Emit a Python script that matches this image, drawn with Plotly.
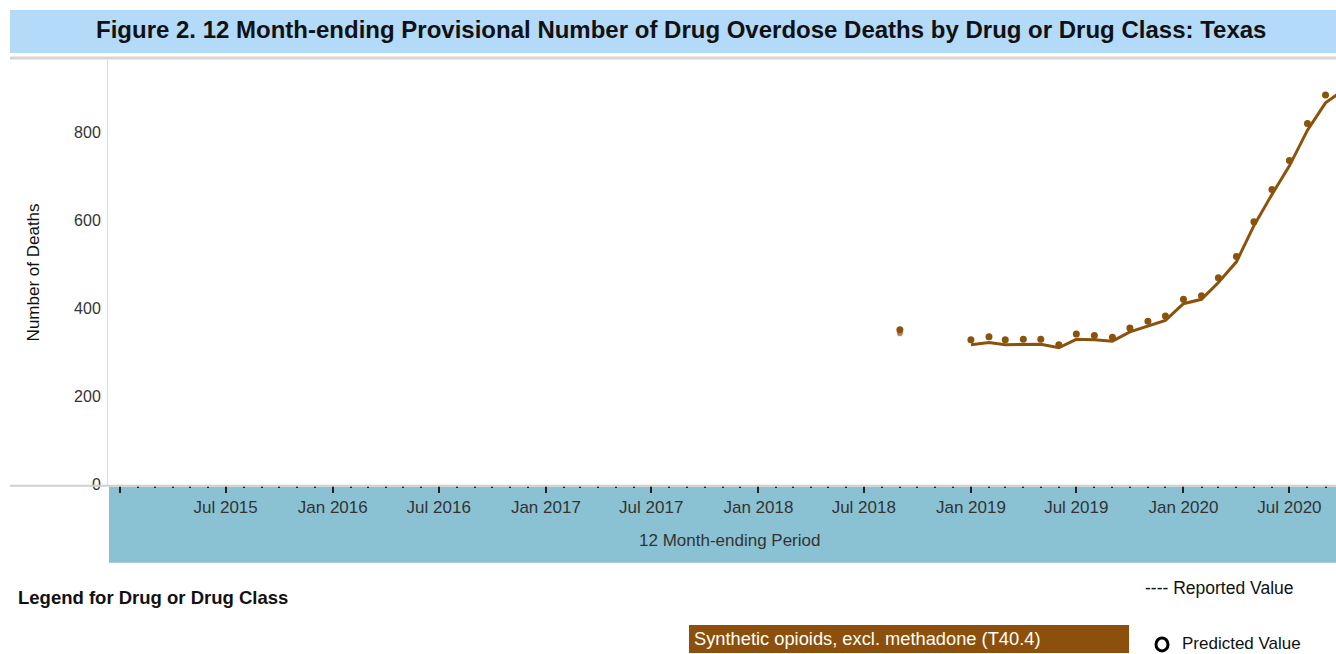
import plotly.graph_objects as go

# 12 month-ending periods (first of month)
months_reported = [
    "2018-09-01", "2018-10-01", "2018-11-01", "2018-12-01",
    "2019-01-01", "2019-02-01", "2019-03-01", "2019-04-01", "2019-05-01", "2019-06-01",
    "2019-07-01", "2019-08-01", "2019-09-01", "2019-10-01", "2019-11-01", "2019-12-01",
    "2020-01-01", "2020-02-01", "2020-03-01", "2020-04-01", "2020-05-01", "2020-06-01",
    "2020-07-01", "2020-08-01", "2020-09-01", "2020-10-01",
]
reported_deaths = [
    344, None, None, None,
    318, 323, 318, 319, 319, 311,
    330, 329, 326, 347, 361, 373,
    411, 421, 459, 506, 588, 659,
    724, 805, 867, 895,
]

months_predicted = [
    "2018-09-01",
    "2019-01-01", "2019-02-01", "2019-03-01", "2019-04-01", "2019-05-01", "2019-06-01",
    "2019-07-01", "2019-08-01", "2019-09-01", "2019-10-01", "2019-11-01", "2019-12-01",
    "2020-01-01", "2020-02-01", "2020-03-01", "2020-04-01", "2020-05-01", "2020-06-01",
    "2020-07-01", "2020-08-01", "2020-09-01",
]
predicted_deaths = [
    352,
    329, 336, 329, 330, 330, 318,
    342, 339, 335, 356, 371, 383,
    421, 429, 470, 518, 597, 670,
    736, 820, 885,
]

tick_dates = ["2015-01-01", "2015-07-01", "2016-01-01", "2016-07-01", "2017-01-01",
              "2017-07-01", "2018-01-01", "2018-07-01", "2019-01-01", "2019-07-01",
              "2020-01-01", "2020-07-01"]
tick_text = ["", "Jul 2015", "Jan 2016", "Jul 2016", "Jan 2017", "Jul 2017",
             "Jan 2018", "Jul 2018", "Jan 2019", "Jul 2019", "Jan 2020", "Jul 2020"]
y_ticks = [0, 200, 400, 600, 800]

drug_label = "Synthetic opioids, excl. methadone (T40.4)"
brown = "#8B520C"
font = "Arial, Liberation Sans, sans-serif"

W, H = 1336, 664   # a little taller: the captured page comes out slightly squeezed
REF_H = 654


def px_x(v):
    return v / W


def px_y(v):
    # v is a pixel row in the 654-tall reference
    return 1 - v / REF_H


fig = go.Figure()

fig.add_trace(go.Scatter(
    x=months_reported, y=reported_deaths, mode="lines+markers",
    line=dict(color=brown, width=3), connectgaps=False,
    marker=dict(color=brown, size=[7] + [0] * (len(reported_deaths) - 1)),
    name="Reported Value", showlegend=False,
))
fig.add_trace(go.Scatter(
    x=months_predicted, y=predicted_deaths, mode="markers",
    marker=dict(color=brown, size=7),
    name="Predicted Value", showlegend=False,
))

shapes = [
    # title band
    dict(type="rect", xref="paper", yref="paper", x0=px_x(10), x1=1,
         y0=px_y(53), y1=px_y(10), fillcolor="#B3DAF8", line_width=0, layer="below"),
    dict(type="line", xref="paper", yref="paper", x0=px_x(10), x1=1,
         y0=px_y(58), y1=px_y(58), line=dict(color="#d4d4d4", width=3)),
    # x axis band
    dict(type="rect", xref="paper", yref="paper", x0=px_x(109), x1=1,
         y0=px_y(562), y1=px_y(486), fillcolor="#8AC2D3", line_width=0, layer="below"),
    dict(type="line", xref="paper", yref="paper", x0=px_x(10), x1=1,
         y0=px_y(485), y1=px_y(485), line=dict(color="#d0d0d0", width=2)),
    # legend colour box
    dict(type="rect", xref="paper", yref="paper", x0=px_x(689), x1=px_x(1129),
         y0=px_y(652), y1=px_y(624), fillcolor="#8C500C", line_width=0),
    # predicted value symbol
    dict(type="circle", xref="paper", yref="paper", x0=px_x(1156), x1=px_x(1168),
         y0=px_y(650), y1=px_y(637), line=dict(color="black", width=3)),
]

annotations = [
    dict(text="<b>Figure 2. 12 Month-ending Provisional Number of Drug Overdose Deaths by Drug or Drug Class: Texas</b>",
         x=px_x(681), y=px_y(29), xref="paper", yref="paper", showarrow=False,
         font=dict(family=font, size=24, color="#111"), xanchor="center", yanchor="middle"),
    dict(text="12 Month-ending Period", x=px_x(730), y=px_y(540), xref="paper", yref="paper",
         showarrow=False, font=dict(family=font, size=17, color="#333"),
         xanchor="center", yanchor="middle"),
    dict(text="<b>Legend for Drug or Drug Class</b>", x=px_x(16), y=px_y(597),
         xref="paper", yref="paper", showarrow=False,
         font=dict(family=font, size=18.5, color="#111"), xanchor="left", yanchor="middle"),
    dict(text="---- Reported Value", x=px_x(1143), y=px_y(587), xref="paper", yref="paper",
         showarrow=False, font=dict(family=font, size=17.5, color="#111"),
         xanchor="left", yanchor="middle"),
    dict(text="Predicted Value", x=px_x(1180), y=px_y(643), xref="paper", yref="paper",
         showarrow=False, font=dict(family=font, size=17, color="#111"),
         xanchor="left", yanchor="middle"),
    dict(text=drug_label, x=px_x(692), y=px_y(638), xref="paper", yref="paper",
         showarrow=False, font=dict(family=font, size=18.3, color="white"),
         xanchor="left", yanchor="middle"),
]

fig.update_layout(
    width=W, height=H,
    margin=dict(l=0, r=0, t=0, b=0),
    paper_bgcolor="white", plot_bgcolor="white",
    shapes=shapes, annotations=annotations,
    font=dict(family=font, size=16, color="#333"),
    xaxis=dict(
        domain=[px_x(108), 1],
        type="date",
        range=["2014-12-11", "2020-09-19"],
        tickvals=tick_dates, ticktext=tick_text,
        ticks="outside", ticklen=7, tickwidth=2, tickcolor="#222",
        minor=dict(dtick="M1", tick0="2015-01-01", ticks="outside", ticklen=2,
                   tickwidth=2, tickcolor="#222"),
        showgrid=False, zeroline=False, showline=False,
        tickfont=dict(family=font, size=17, color="#333"),
        anchor="y",
    ),
    yaxis=dict(
        domain=[px_y(484), px_y(60)],
        range=[0, 964],
        tickvals=y_ticks,
        showgrid=False, zeroline=False,
        showline=True, linecolor="#dddddd", linewidth=1,
        ticks="", ticklabelstandoff=3,
        tickfont=dict(family=font, size=16, color="#333"),
        title=dict(text="Number of Deaths", font=dict(family=font, size=17, color="#111"),
                   standoff=30),
    ),
)

fix_page = (
    "document.documentElement.style.margin='0';"
    "document.body.style.margin='0';"
)
fig.write_html("out.html", config={"displayModeBar": False}, post_script=fix_page)
